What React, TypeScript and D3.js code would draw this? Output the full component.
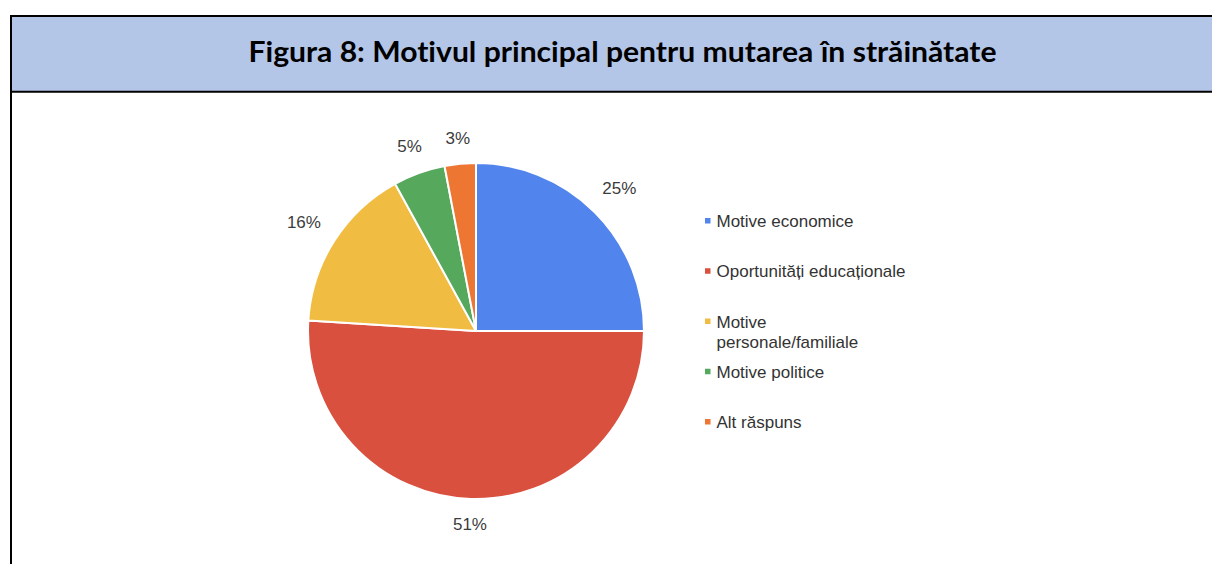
import React from "react";
import * as d3 from "d3";

const TITLE = "Figura 8: Motivul principal pentru mutarea în străinătate";
const categories = [
  "Motive economice",
  "Oportunități educaționale",
  "Motive personale/familiale",
  "Motive politice",
  "Alt răspuns",
];
const legendLines = [
  ["Motive economice"],
  ["Oportunități educaționale"],
  ["Motive", "personale/familiale"],
  ["Motive politice"],
  ["Alt răspuns"],
];
const values = [25, 51, 16, 5, 3];
const colors = ["#5184EC", "#D9503F", "#F0BD42", "#55A85C", "#EC7632"];

const W = 1212;
const H = 564;
const CX = 476;
const CY = 331;
const R = 168;
const FONT = "'Liberation Sans', Arial, sans-serif";
const FS = 17;

function textW(s: string) {
  let w = 0;
  for (const c of s) w += c === "%" ? 0.889 : 0.556;
  return w * FS;
}

export default function App() {
  const pie = d3
    .pie<number>()
    .sort(null)
    .value((d) => d)
    .startAngle(0)
    .endAngle(2 * Math.PI);
  const arcs = pie(values);
  const arc = d3.arc<d3.PieArcDatum<number>>().innerRadius(0).outerRadius(R);
  const total = d3.sum(values);

  const legendX = 705;
  const legendY0 = 227;
  const legendStep = 50.25;

  return (
    <svg
      width={W}
      height={H}
      style={{ position: "absolute", left: 0, top: 0, background: "#fff" }}
    >
      {/* header */}
      <rect x={11} y={16} width={W} height={75.7} fill="#B4C6E7" />
      <line x1={10} x2={W} y1={16} y2={16} stroke="#000" strokeWidth={2} />
      <line x1={10} x2={W} y1={91.7} y2={91.7} stroke="#000" strokeWidth={2} />
      <line x1={11} x2={11} y1={15} y2={H} stroke="#000" strokeWidth={2} />
      <text
        x={622.5}
        y={62}
        textAnchor="middle"
        fontFamily="Lato, 'Open Sans', sans-serif"
        fontWeight="bold"
        fontSize={29}
        fill="#000"
        textLength={748}
        lengthAdjust="spacingAndGlyphs"
        style={{ fontVariantLigatures: "none" }}
      >
        {TITLE}
      </text>

      {/* pie */}
      <g transform={`translate(${CX},${CY})`}>
        {arcs.map((a, i) => (
          <path
            key={i}
            d={arc(a) || ""}
            fill={colors[i]}
            stroke="#fff"
            strokeWidth={2}
            strokeLinejoin="round"
          />
        ))}
        {arcs.map((a, i) => {
          const label = `${Math.round((a.data / total) * 100)}%`;
          const mid = (a.startAngle + a.endAngle) / 2;
          const s = Math.sin(mid);
          const c = -Math.cos(mid);
          const hw = textW(label) / 2;
          const hh = 6.5;
          const dist = R + 18 + hw * Math.abs(s) + hh * Math.abs(c);
          const x = s * dist;
          const y = c * dist;
          return (
            <text
              key={"l" + i}
              x={x}
              y={y + 6.1}
              textAnchor="middle"
              fontFamily={FONT}
              fontSize={FS}
              fill="#3c3c3c"
            >
              {label}
            </text>
          );
        })}
      </g>

      {/* legend */}
      {categories.map((cat, i) => {
        const by = legendY0 + i * legendStep;
        return (
          <g key={cat}>
            <rect x={legendX} y={by - 9} width={5.5} height={5.5} fill={colors[i]} />
            <text fontFamily={FONT} fontSize={FS} fill="#333">
              {legendLines[i].map((ln, j) => (
                <tspan key={j} x={legendX + 11.5} y={by + j * 20.7}>
                  {ln}
                </tspan>
              ))}
            </text>
          </g>
        );
      })}
    </svg>
  );
}
